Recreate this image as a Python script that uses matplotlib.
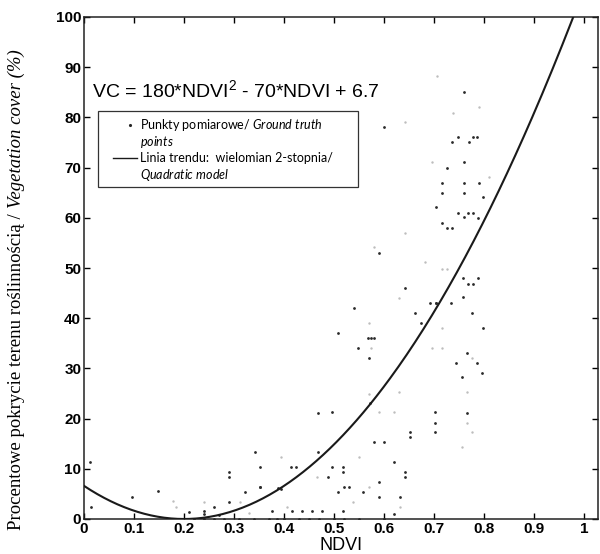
import matplotlib
matplotlib.use("Agg")
import matplotlib.pyplot as plt
import numpy as np
from matplotlib.patches import Rectangle

# DANE ODCZYTANE Z WYKRESU
# punkty pomiarowe (ciemne)
ndvi_dark = [0.759, 0.747, 0.736, 0.769, 0.777, 0.786, 0.759, 0.725, 0.715, 0.759,
             0.789, 0.715, 0.759, 0.797, 0.704, 0.747, 0.767, 0.777, 0.759, 0.787,
             0.715, 0.725, 0.735, 0.600, 0.757, 0.787, 0.767, 0.777, 0.757,
             0.704, 0.734, 0.776, 0.797, 0.765, 0.744, 0.785, 0.755, 0.795, 0.590,
             0.642, 0.692, 0.703, 0.539, 0.662, 0.673, 0.507, 0.567, 0.573, 0.580,
             0.547, 0.570, 0.572, 0.467, 0.495, 0.702, 0.702, 0.702, 0.651, 0.651,
             0.579, 0.600, 0.467, 0.620, 0.352, 0.413, 0.424, 0.495, 0.517, 0.517,
             0.487, 0.590, 0.352, 0.387, 0.393, 0.507, 0.519, 0.529, 0.557, 0.590,
             0.631, 0.375, 0.415, 0.435, 0.455, 0.475, 0.517, 0.620, 0.765, 0.342,
             0.290, 0.290, 0.012, 0.013, 0.095, 0.148, 0.210, 0.240, 0.240, 0.260,
             0.290, 0.322, 0.351, 0.270, 0.642, 0.642,
             0.22, 0.24, 0.26, 0.28, 0.31, 0.34, 0.37, 0.385, 0.40, 0.43, 0.45,
             0.47, 0.50, 0.52, 0.55, 0.60]
vc_dark = [85.1, 76.0, 75.0, 75.0, 76.0, 76.0, 71.1, 70.0, 66.9, 66.9,
           66.9, 65.0, 65.0, 64.1, 62.1, 61.0, 60.9, 60.9, 60.1, 60.0,
           59.0, 58.0, 57.9, 78.0, 48.1, 48.1, 46.9, 46.9, 44.2,
           43.0, 43.0, 41.1, 38.0, 33.1, 31.1, 31.1, 28.2, 29.1, 52.9,
           46.0, 43.1, 43.1, 42.0, 41.1, 39.0, 37.1, 36.0, 36.0, 36.0,
           34.1, 32.0, 23.2, 21.2, 21.4, 21.4, 19.2, 17.4, 17.4, 16.3,
           15.3, 15.3, 13.4, 11.4, 10.4, 10.4, 10.4, 10.4, 10.4, 9.4,
           8.3, 7.4, 6.4, 6.2, 5.9, 5.4, 6.4, 6.4, 5.4, 4.4,
           4.4, 1.5, 1.5, 1.5, 1.5, 1.5, 1.5, 1.0, 21.2, 13.3,
           9.4, 8.3, 11.3, 2.4, 4.4, 5.6, 1.3, 1.6, 1.0, 2.4,
           3.4, 5.4, 6.4, 0.8, 9.4, 8.3,
           0, 0, 0, 0, 0, 0, 0, 0, 0, 0, 0,
           0, 0, 0, 0, 0]

# punkty pomiarowe (blade)
ndvi_faint = [0.705, 0.790, 0.737, 0.642, 0.695, 0.809, 0.642, 0.715, 0.725, 0.715,
              0.695, 0.715, 0.776, 0.765, 0.580, 0.682, 0.570, 0.573, 0.570, 0.630,
              0.589, 0.620, 0.393, 0.549, 0.465, 0.569, 0.537, 0.631, 0.405, 0.177,
              0.184, 0.240, 0.312, 0.330, 0.765, 0.775, 0.755, 0.629]
vc_faint = [88.2, 82.1, 80.9, 79.0, 71.1, 68.1, 57.0, 49.9, 49.9, 38.0,
            34.1, 34.1, 32.1, 25.2, 54.1, 51.1, 39.0, 34.1, 25.0, 25.2,
            21.4, 21.4, 12.4, 12.4, 8.3, 6.3, 3.4, 2.4, 2.4, 3.6,
            2.4, 3.4, 3.4, 1.2, 19.2, 17.3, 14.3, 44.0]

trend_coef = [165.0, -66.0, 6.6]

x_ticks = [0, 0.1, 0.2, 0.3, 0.4, 0.5, 0.6, 0.7, 0.8, 0.9, 1.0]
x_tick_labels = ["0", "0.1", "0.2", "0.3", "0.4", "0.5", "0.6", "0.7", "0.8", "0.9", "1"]
y_ticks = [0, 10, 20, 30, 40, 50, 60, 70, 80, 90, 100]

# USTAWIENIA CZCIONEK
plt.rcParams['mathtext.fontset'] = 'custom'
plt.rcParams['mathtext.rm'] = 'Liberation Sans'
plt.rcParams['mathtext.it'] = 'Lato:italic'

fig = plt.figure(figsize=(6, 5.54), dpi=100)
ax = fig.add_axes([84/600, 35/554, 514/600, 502/554])

# PUNKTY
ax.scatter(ndvi_faint, vc_faint, s=3, color='#bdbdbd', linewidths=0, zorder=2)
ax.scatter(ndvi_dark, vc_dark, s=4, color='#2a2a2a', linewidths=0, zorder=3)

# KRZYWA TRENDU
x_fit = np.linspace(0, 1.0, 300)
ax.plot(x_fit, np.polyval(trend_coef, x_fit), color='#1a1a1a', lw=1.5, zorder=4)

# OSIE
ax.set_xlim(0, 1.028)
ax.set_ylim(0, 100)
ax.set_xticks(x_ticks)
ax.set_xticklabels(x_tick_labels)
ax.set_yticks(y_ticks)
ax.tick_params(direction='in', length=4, width=1, top=True, right=True, pad=2,
               labelsize=11)
for lab in ax.get_xticklabels() + ax.get_yticklabels():
    lab.set_fontfamily('Liberation Sans')
    lab.set_fontweight('bold')
for sp in ax.spines.values():
    sp.set_linewidth(1.1)
    sp.set_color('#222222')

ax.set_xlabel("NDVI", family='Liberation Sans', fontsize=13, labelpad=1)

# ROWNANIE
ax.text(0.016, 0.855, r"VC = 180*NDVI$^{\mathrm{2}}$ - 70*NDVI + 6.7",
        transform=ax.transAxes, family='Liberation Sans', fontsize=14,
        va='center', ha='left')

# LEGENDA (reczna ramka)
ax.add_patch(Rectangle((0.0272, 0.661), 0.506, 0.152, transform=ax.transAxes,
                       facecolor='white', edgecolor='#333333', lw=0.9, zorder=5))
leg_rows = [0.785, 0.751, 0.719, 0.685]
leg_text = ["Punkty pomiarowe/ $\\mathit{Ground\\ truth}$",
            "$\\mathit{points}$",
            "Linia trendu:  wielomian 2-stopnia/",
            "$\\mathit{Quadratic\\ model}$"]
for yy, tt in zip(leg_rows, leg_text):
    ax.text(0.109, yy, tt, transform=ax.transAxes, family='Lato', fontsize=9,
            va='center', ha='left', zorder=6)
ax.plot([0.0895], [leg_rows[0]], marker='.', ms=2.5, color='#262626',
        transform=ax.transAxes, zorder=6, clip_on=False)
ax.plot([0.056, 0.104], [leg_rows[2], leg_rows[2]], color='#1a1a1a', lw=1,
        transform=ax.transAxes, zorder=6)

# OPIS OSI Y (dwie czesci: prosta i kursywa)
fig.canvas.draw()
rend = fig.canvas.get_renderer()
t1 = fig.text(0.028, 24/554, "Procentowe pokrycie terenu roślinnością / ",
              rotation=90, ha='center', va='bottom', family='Liberation Serif',
              fontsize=13.5)
bb = t1.get_window_extent(rend)
fig.text(0.028, bb.y1 / fig.bbox.height, "Vegetation cover (%)",
         rotation=90, ha='center', va='bottom', family='Liberation Serif',
         style='italic', fontsize=13.5)

fig.savefig("out.png", dpi=100)
